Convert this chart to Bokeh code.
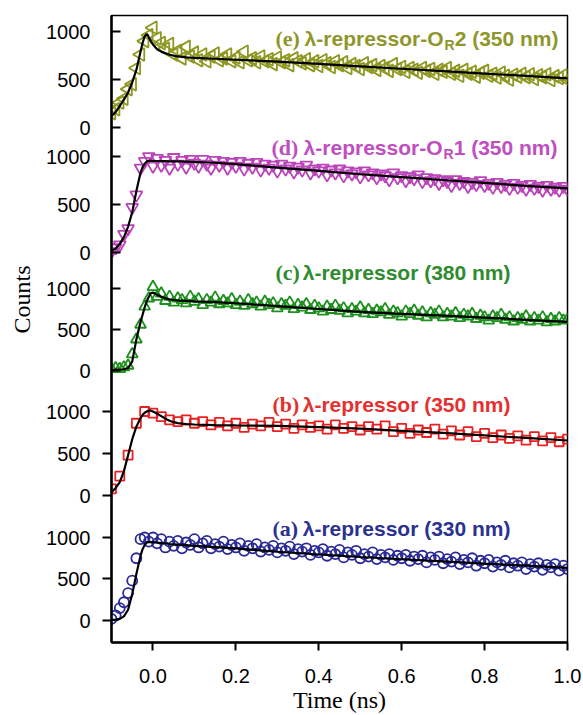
import math
from bokeh.plotting import figure
from bokeh.models import Range1d, LinearAxis, FixedTicker, Label, NumeralTickFormatter, Title
from bokeh.embed import file_html
from bokeh.resources import INLINE

# ---------------- data ----------------
t = [-0.10, -0.09, -0.08, -0.07, -0.06, -0.05, -0.04, -0.03, -0.02, -0.01,
     0.00, 0.01, 0.02, 0.03, 0.04, 0.05, 0.06, 0.07, 0.08, 0.09,
     0.10, 0.11, 0.12, 0.13, 0.14, 0.15, 0.16, 0.17, 0.18, 0.19,
     0.20, 0.21, 0.22, 0.23, 0.24, 0.25, 0.26, 0.27, 0.28, 0.29,
     0.30, 0.31, 0.32, 0.33, 0.34, 0.35, 0.36, 0.37, 0.38, 0.39,
     0.40, 0.41, 0.42, 0.43, 0.44, 0.45, 0.46, 0.47, 0.48, 0.49,
     0.50, 0.51, 0.52, 0.53, 0.54, 0.55, 0.56, 0.57, 0.58, 0.59,
     0.60, 0.61, 0.62, 0.63, 0.64, 0.65, 0.66, 0.67, 0.68, 0.69,
     0.70, 0.71, 0.72, 0.73, 0.74, 0.75, 0.76, 0.77, 0.78, 0.79,
     0.80, 0.81, 0.82, 0.83, 0.84, 0.85, 0.86, 0.87, 0.88, 0.89,
     0.90, 0.91, 0.92, 0.93, 0.94, 0.95, 0.96, 0.97, 0.98, 0.99,
     1.00]

t_b = [-0.10, -0.08, -0.06, -0.04, -0.02, 0.00, 0.02, 0.04, 0.06, 0.08,
       0.10, 0.12, 0.14, 0.16, 0.18, 0.20, 0.22, 0.24, 0.26, 0.28,
       0.30, 0.32, 0.34, 0.36, 0.38, 0.40, 0.42, 0.44, 0.46, 0.48,
       0.50, 0.52, 0.54, 0.56, 0.58, 0.60, 0.62, 0.64, 0.66, 0.68,
       0.70, 0.72, 0.74, 0.76, 0.78, 0.80, 0.82, 0.84, 0.86, 0.88,
       0.90, 0.92, 0.94, 0.96, 0.98, 1.00]

t_fit = [-0.10, -0.09, -0.08, -0.07, -0.06, -0.05, -0.04, -0.03, -0.025, -0.02,
         -0.015, -0.01, -0.005, 0.00, 0.01, 0.02, 0.03, 0.04, 0.05, 0.06,
         0.08, 0.10, 0.15, 0.20, 0.30, 0.40, 0.50, 0.60, 0.70, 0.80,
         0.90, 1.00]

# (e) lambda-repressor-OR2 (350 nm)
e_counts = [150, 190, 260, 300, 400, 450, 620, 760, 900, 960,
            1040, 930, 880, 820, 870, 760, 800, 720, 840, 740,
            780, 700, 760, 690, 740, 770, 700, 720, 760, 690,
            730, 680, 790, 700, 720, 680, 740, 690, 710, 660,
            730, 680, 700, 650, 720, 690, 670, 710, 650, 690,
            640, 700, 670, 630, 690, 650, 680, 620, 660, 640,
            610, 670, 630, 650, 600, 640, 620, 590, 660, 610,
            630, 580, 620, 600, 570, 620, 590, 610, 560, 600,
            580, 620, 560, 590, 540, 600, 560, 580, 530, 570,
            590, 540, 560, 520, 570, 540, 500, 550, 530, 560,
            525, 555, 505, 545, 525, 555, 495, 535, 515, 545,
            495]
e_fit = [120, 160, 225, 290, 365, 470, 600, 790, 880, 950,
         975, 940, 895, 865, 815, 790, 772, 758, 748, 740,
         731, 726, 716, 706, 686, 662, 637, 612, 587, 562,
         537, 512]

# (d) lambda-repressor-OR1 (350 nm)
d_counts = [10, 50, 80, 190, 250, 470, 600, 880, 950, 1000,
            900, 980, 910, 960, 880, 990, 920, 960, 890, 970,
            930, 900, 970, 920, 880, 960, 910, 950, 880, 940,
            900, 950, 870, 930, 890, 940, 860, 920, 880, 910,
            850, 920, 870, 900, 840, 890, 860, 910, 830, 870,
            850, 880, 810, 860, 830, 870, 800, 850, 820, 840,
            790, 850, 810, 830, 780, 820, 800, 760, 830, 780,
            800, 750, 790, 770, 810, 740, 780, 750, 770, 720,
            760, 740, 700, 760, 720, 740, 690, 730, 710, 750,
            700, 720, 680, 730, 690, 710, 670, 720, 680, 700,
            660, 710, 670, 690, 650, 700, 660, 680, 650, 690,
            660]
d_fit = [20, 40, 90, 160, 270, 420, 640, 830, 890, 925,
         948, 955, 955, 954, 953, 952, 951, 950, 950, 949,
         947, 945, 935, 920, 885, 850, 815, 785, 755, 725,
         695, 668]

# (c) lambda-repressor (380 nm)
c_counts = [20, 30, 20, 40, 60, 200, 380, 560, 780, 880,
            1020, 900, 940, 850, 900, 830, 880, 860, 820, 900,
            840, 870, 800, 860, 830, 890, 810, 850, 820, 870,
            800, 840, 790, 860, 810, 830, 780, 840, 800, 820,
            760, 810, 790, 830, 750, 800, 770, 810, 740, 790,
            760, 720, 780, 740, 790, 730, 760, 700, 750, 720,
            770, 700, 740, 690, 730, 710, 750, 680, 720, 700,
            660, 720, 690, 730, 670, 710, 650, 700, 680, 720,
            650, 690, 660, 700, 640, 680, 660, 690, 630, 670,
            650, 610, 660, 640, 680, 620, 650, 600, 640, 620,
            660, 600, 640, 610, 650, 590, 630, 600, 640, 610,
            620]
c_fit = [8, 10, 12, 15, 30, 110, 380, 590, 680, 770,
         845, 900, 945, 950, 925, 900, 880, 868, 860, 855,
         848, 843, 835, 820, 785, 750, 715, 690, 670, 645,
         618, 592]

# (b) lambda-repressor (350 nm)
b_counts = [80, 230, 480, 860, 1000, 980, 940, 900, 880, 900,
            860, 880, 840, 870, 830, 860, 810, 850, 830, 870,
            820, 850, 800, 840, 810, 830, 790, 840, 800, 820,
            780, 820, 790, 830, 760, 800, 740, 780, 750, 790,
            730, 770, 720, 760, 700, 740, 690, 720, 680, 710,
            660, 700, 650, 690, 640, 670]
b_fit = [40, 90, 160, 290, 480, 670, 820, 920, 960, 985,
         1000, 1010, 1010, 1000, 975, 945, 915, 890, 873, 862,
         850, 845, 838, 834, 830, 815, 795, 770, 745, 715,
         685, 655]

# (a) lambda-repressor (330 nm)
a_counts = [20, 60, 150, 220, 330, 480, 750, 980, 1000, 950,
            1000, 930, 980, 880, 950, 900, 960, 870, 940, 910,
            980, 880, 930, 960, 870, 920, 890, 950, 860, 910,
            880, 930, 840, 900, 870, 920, 830, 880, 850, 900,
            820, 870, 840, 890, 800, 860, 830, 870, 790, 840,
            820, 860, 780, 830, 800, 850, 760, 820, 790, 840,
            750, 800, 770, 820, 740, 790, 760, 800, 730, 780,
            750, 790, 720, 770, 740, 780, 700, 760, 730, 770,
            690, 740, 710, 760, 680, 730, 700, 750, 660, 720,
            690, 730, 650, 700, 670, 720, 640, 690, 660, 700,
            620, 680, 650, 690, 610, 670, 640, 680, 600, 660,
            620]
a_fit = [5, 10, 20, 50, 130, 320, 560, 780, 860, 910,
         940, 945, 945, 943, 938, 933, 928, 922, 918, 914,
         907, 900, 885, 868, 828, 795, 765, 738, 712, 685,
         660, 635]

y_tick_values = [0, 500, 1000]
y_tick_labels = ["0", "500", "1000"]
x_tick_values = [0.0, 0.2, 0.4, 0.6, 0.8, 1.0]

# ---------------- layout ----------------
W, H = 583, 715
LEFT, RIGHT, TOP, BOTTOM = 111, 16, 15, 73
FRAME_H = H - TOP - BOTTOM
FRAME_W = W - LEFT - RIGHT
X0, X1 = -0.1, 1.0

SANS = "Liberation Sans"
SERIF = "Liberation Serif"


def sx2x(sx):
    return X0 + (sx - LEFT) / FRAME_W * (X1 - X0)


def sy2v(sy):
    return (H - BOTTOM) - sy


p = figure(width=W, height=H, output_backend="svg", toolbar_location=None,
           x_range=Range1d(X0, X1), y_range=Range1d(0, FRAME_H),
           min_border_left=LEFT, min_border_right=RIGHT,
           min_border_top=TOP, min_border_bottom=BOTTOM)
p.background_fill_color = "white"
p.border_fill_color = "white"
p.xgrid.visible = False
p.ygrid.visible = False
p.outline_line_color = "black"
p.outline_line_width = 1.5

# panel: name, data x, data y, fit y, marker, angle, size, color,
#        screen y of 0, screen y of 1000, ticks inside?
panels = [
    ("e", t, e_counts, e_fit, "triangle", math.pi / 2, 13, "#8e9820", 127, 31, True),
    ("d", t, d_counts, d_fit, "inverted_triangle", 0.0, 12, "#bb44bb", 252, 156, True),
    ("c", t, c_counts, c_fit, "triangle", 0.0, 11, "#1f8f1f", 370, 288, True),
    ("b", t_b, b_counts, b_fit, "square", 0.0, 9, "#e82020", 495, 411, False),
    ("a", t, a_counts, a_fit, "circle", 0.0, 10, "#2a2a96", 620, 537, False),
]

ticks_in, ticks_out, overrides = [], [], {}
for name, xs, ys, fit, marker, ang, size, col, y0, y1000, inside in panels:
    v0, v1 = sy2v(y0), sy2v(y1000)
    scale = (v1 - v0) / 1000.0
    p.extra_y_ranges[name] = Range1d(-v0 / scale, (FRAME_H - v0) / scale)
    p.scatter(xs, ys, marker=marker, angle=ang, size=size, line_color=col,
              fill_color=None, line_width=1.8, y_range_name=name)
    p.line(t_fit, fit, line_color="black", line_width=2.2, y_range_name=name)
    for tv, tl in zip(y_tick_values, y_tick_labels):
        v = int(round(v0 + tv * scale))
        overrides[v] = tl
        (ticks_in if inside else ticks_out).append(v)

# inner left axis: axis line + inward ticks (upper three panels), no labels
ax1 = p.yaxis[0]
ax1.ticker = FixedTicker(ticks=[], minor_ticks=ticks_in)
ax1.axis_line_width = 2.5
ax1.major_tick_in = 0
ax1.major_tick_out = 0
ax1.minor_tick_in = 9
ax1.minor_tick_out = 0
ax1.minor_tick_line_width = 2
ax1.major_label_standoff = 0

# outer left axis: tick labels + outward ticks (lower two panels)
ax2 = LinearAxis(ticker=FixedTicker(ticks=sorted(overrides.keys()), minor_ticks=ticks_out),
                 major_label_overrides=overrides)
ax2.axis_line_color = None
ax2.major_tick_line_color = None
ax2.major_tick_in = 0
ax2.major_tick_out = 0
ax2.minor_tick_in = 0
ax2.minor_tick_out = 9
ax2.minor_tick_line_width = 2
ax2.minor_tick_line_color = "black"
ax2.major_label_standoff = 12
ax2.major_label_text_font = SANS
ax2.major_label_text_font_size = "20px"
ax2.major_label_text_color = "black"
p.add_layout(ax2, "left")

# "Counts" y title, starting where the reference has it
p.add_layout(Title(text="Counts", align="left", vertical_align="top",
                   offset=(H - BOTTOM) - 333, standoff=14,
                   text_font=SERIF, text_font_size="24px", text_font_style="normal",
                   text_color="black"), "left")

xa = p.xaxis[0]
xa.ticker = FixedTicker(ticks=x_tick_values, minor_ticks=[])
xa.formatter = NumeralTickFormatter(format="0.0")
xa.axis_line_width = 2.5
xa.major_tick_in = 0
xa.major_tick_out = 8
xa.major_tick_line_width = 2
xa.major_label_standoff = 18
xa.major_label_text_font = SANS
xa.major_label_text_font_size = "20px"
xa.major_label_text_color = "black"
xa.axis_label = "Time (ns)"
xa.axis_label_text_font = SERIF
xa.axis_label_text_font_size = "24px"
xa.axis_label_text_font_style = "normal"
xa.axis_label_text_color = "black"
xa.axis_label_standoff = 1

# panel titles: colour, centre y, pieces of (text, screen x, align, font, size, dy)
titles = [
    ("#8f962b", 38, [("(e)", 275, "left", SERIF, "22px", 0),
                      ("\u03bb-repressor-O", 443, "right", SANS, "21px", 0),
                      ("R", 444, "left", SANS, "14px", 6),
                      ("2 (350 nm)", 558, "right", SANS, "21px", 0)]),
    ("#c04ec0", 147, [("(d)", 271, "left", SERIF, "22px", 0),
                       ("\u03bb-repressor-O", 442, "right", SANS, "21px", 0),
                       ("R", 443, "left", SANS, "14px", 6),
                       ("1 (350 nm)", 557, "right", SANS, "21px", 0)]),
    ("#2e8b2e", 272, [("(c)", 275, "left", SERIF, "22px", 0),
                       ("\u03bb-repressor (380 nm)", 510, "right", SANS, "21px", 0)]),
    ("#e53030", 404, [("(b)", 272, "left", SERIF, "22px", 0),
                       ("\u03bb-repressor (350 nm)", 510, "right", SANS, "21px", 0)]),
    ("#2b3190", 528, [("(a)", 272, "left", SERIF, "22px", 0),
                       ("\u03bb-repressor (330 nm)", 510, "right", SANS, "21px", 0)]),
]
for col, ty, pieces in titles:
    for txt, sx, align, font, fsize, dy in pieces:
        p.add_layout(Label(x=sx2x(sx), y=sy2v(ty + dy), text=txt, text_font=font,
                           text_font_size=fsize, text_font_style="bold", text_color=col,
                           text_align=align, text_baseline="middle"))

open("out.html", "w").write(file_html(p, INLINE))
